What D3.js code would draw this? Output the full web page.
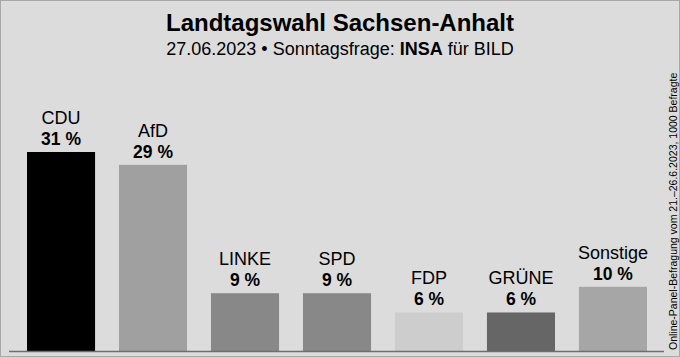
<!DOCTYPE html>
<html>
<head>
<meta charset="utf-8">
<script src="https://cdn.jsdelivr.net/npm/d3@7"></script>
<style>
html,body{margin:0;padding:0;background:#dcdcdc;}
svg{display:block;font-family:"Liberation Sans",Arial,sans-serif;}
</style>
</head>
<body>
<svg id="chart" width="680" height="357"></svg>
<script>
const parties = ["CDU","AfD","LINKE","SPD","FDP","GRÜNE","Sonstige"];
const values = [31,29,9,9,6,6,10];
const colors = ["#000000","#a0a0a0","#888888","#888888","#cdcdcd","#666666","#a6a6a6"];
const title = "Landtagswahl Sachsen-Anhalt";
const subtitleParts = ["27.06.2023 • Sonntagsfrage: ","INSA"," für BILD"];
const footnote = "Online-Panel-Befragung vom 21.–26.6.2023, 1000 Befragte";

const W = 680, H = 357;
const svg = d3.select("#chart");

svg.append("rect").attr("x",0).attr("y",0).attr("width",W).attr("height",H).attr("fill","#dcdcdc");
svg.append("rect").attr("x",0.5).attr("y",0.5).attr("width",W-1).attr("height",H-1)
  .attr("fill","none").attr("stroke","#a8a8a8").attr("stroke-width",1);

const x = d3.scaleBand().domain(parties).range([27,647]).paddingInner(0.26).paddingOuter(0);
const y = d3.scaleLinear().domain([0,31]).range([351,152]);

const data = parties.map((p,i)=>({p, v:values[i], c:colors[i]}));

svg.append("g").selectAll("rect").data(data).join("rect")
  .attr("x",d=>x(d.p)).attr("width",x.bandwidth())
  .attr("y",d=>y(d.v)).attr("height",d=>y(0)-y(d.v))
  .attr("fill",d=>d.c);

svg.append("line").attr("x1",9).attr("x2",664).attr("y1",351.5).attr("y2",351.5)
  .attr("stroke","#6e6e6e").attr("stroke-width",1.5);

const lab = svg.append("g").attr("text-anchor","middle").attr("fill","#000");
lab.selectAll("text.name").data(data).join("text").attr("class","name")
  .attr("x",d=>x(d.p)+x.bandwidth()/2).attr("y",d=>y(d.v)-28)
  .attr("font-size",18).text(d=>d.p);
lab.selectAll("text.val").data(data).join("text").attr("class","val")
  .attr("x",d=>x(d.p)+x.bandwidth()/2).attr("y",d=>y(d.v)-7)
  .attr("font-size",17.5).attr("font-weight","bold").text(d=>d.v+" %");

svg.append("text").attr("x",340).attr("y",31).attr("text-anchor","middle")
  .attr("font-size",24).attr("font-weight","bold").text(title);

const sub = svg.append("text").attr("x",340).attr("y",55).attr("text-anchor","middle").attr("font-size",18);
sub.selectAll("tspan").data(subtitleParts).join("tspan")
  .attr("font-weight",(d,i)=>i===1?"bold":"normal").text(d=>d);

svg.append("text").attr("transform","translate(677,350) rotate(-90)")
  .attr("font-size",10.5).attr("text-anchor","start").text(footnote);
</script>
</body>
</html>
